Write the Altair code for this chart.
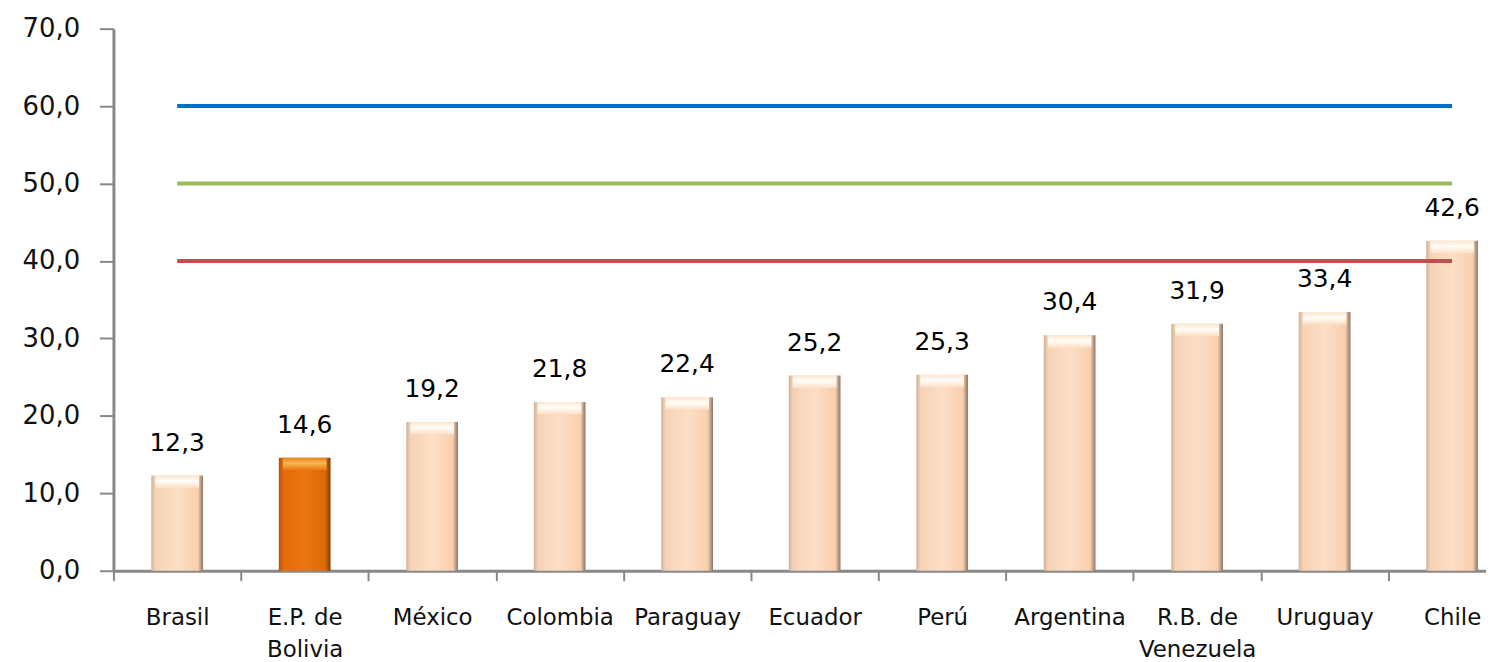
import altair as alt
import pandas as pd

countries = ["Brasil", "E.P. de Bolivia", "México", "Colombia", "Paraguay", "Ecuador",
             "Perú", "Argentina", "R.B. de Venezuela", "Uruguay", "Chile"]
values = [12.3, 14.6, 19.2, 21.8, 22.4, 25.2, 25.3, 30.4, 31.9, 33.4, 42.6]
highlight = "E.P. de Bolivia"

ref_levels = [60, 50, 40]
ref_names = ["60", "50", "40"]
ref_colors = ["#0070C0", "#9BBB59", "#C0504D"]
ref_span = ["Brasil", "Chile"]

bars_df = pd.DataFrame({"country": countries, "value": values})
bars_df["hl"] = bars_df["country"] == highlight

rows = []
for lvl, nm in zip(ref_levels, ref_names):
    for c in ref_span:
        rows.append({"country": c, "value": lvl, "ref": nm})
lines_df = pd.DataFrame(rows)

xscale = alt.Scale(domain=countries, range=[0, 1410], paddingInner=0, paddingOuter=0)
label_expr = ("datum.label == 'E.P. de Bolivia' ? ['E.P. de', 'Bolivia'] : "
              "datum.label == 'R.B. de Venezuela' ? ['R.B. de', 'Venezuela'] : datum.label")

x_enc = alt.X("country:N", scale=xscale, sort=countries,
              axis=alt.Axis(title=None, labelAngle=0, tickBand="extent", tickSize=10,
                            tickWidth=2, tickColor="#888888", domainColor="#888888",
                            domainWidth=3, labelFontSize=23, labelColor="#111111",
                            labelFont="DejaVu Sans", labelPadding=26,
                            labelLineHeight=32, labelBaseline="top",
                            labelExpr=label_expr))
y_enc = alt.Y("value:Q", scale=alt.Scale(domain=[0, 70], nice=False),
              axis=alt.Axis(title=None, values=[0, 10, 20, 30, 40, 50, 60, 70],
                            labelExpr="replace(format(datum.value, '.1f'), '.', ',')",
                            tickSize=14, tickWidth=2, tickColor="#888888",
                            domainColor="#888888", domainWidth=3, grid=False,
                            labelFontSize=26, labelColor="#111111",
                            labelFont="DejaVu Sans", labelPadding=20))

peach = alt.Gradient(gradient="linear", x1=0, x2=1, y1=0, y2=0, stops=[
    alt.GradientStop(color="#CDB29C", offset=0),
    alt.GradientStop(color="#F6D2B4", offset=0.08),
    alt.GradientStop(color="#FDDFC6", offset=0.5),
    alt.GradientStop(color="#F8CFAE", offset=0.9),
    alt.GradientStop(color="#8E7565", offset=1)])
orange = alt.Gradient(gradient="linear", x1=0, x2=1, y1=0, y2=0, stops=[
    alt.GradientStop(color="#B8520A", offset=0),
    alt.GradientStop(color="#E46C0A", offset=0.1),
    alt.GradientStop(color="#EC760F", offset=0.5),
    alt.GradientStop(color="#DD680A", offset=0.9),
    alt.GradientStop(color="#7E3A08", offset=1)])
cap_peach = alt.Gradient(gradient="linear", x1=0, x2=0, y1=0, y2=1, stops=[
    alt.GradientStop(color="#FBE6D2", offset=0),
    alt.GradientStop(color="#FFFDF8", offset=0.45),
    alt.GradientStop(color="#FDDFC6", offset=1)])
cap_orange = alt.Gradient(gradient="linear", x1=0, x2=0, y1=0, y2=1, stops=[
    alt.GradientStop(color="#E8801A", offset=0),
    alt.GradientStop(color="#F6B850", offset=0.45),
    alt.GradientStop(color="#EC760F", offset=1)])

base = alt.Chart(bars_df)
bars_normal = base.transform_filter("!datum.hl").mark_bar(width=52, color=peach).encode(x=x_enc, y=y_enc)
bars_hl = base.transform_filter("datum.hl").mark_bar(width=52, color=orange).encode(x=x_enc, y=y_enc)

cap_base = base.transform_calculate(low="datum.value - 1.6")
caps_normal = cap_base.transform_filter("!datum.hl").mark_bar(width=44, color=cap_peach).encode(
    x=x_enc, y=y_enc, y2="low:Q")
caps_hl = cap_base.transform_filter("datum.hl").mark_bar(width=44, color=cap_orange).encode(
    x=x_enc, y=y_enc, y2="low:Q")

labels = base.transform_calculate(
    lbl="replace(format(datum.value, '.1f'), '.', ',')"
).mark_text(baseline="middle", dy=-33, fontSize=25, font="DejaVu Sans", color="#000000").encode(
    x=x_enc, y=y_enc, text="lbl:N")

lines = alt.Chart(lines_df).mark_line(strokeWidth=4).encode(
    x=x_enc, y=y_enc,
    color=alt.Color("ref:N", scale=alt.Scale(domain=ref_names, range=ref_colors), legend=None),
    detail="ref:N")

chart = alt.layer(bars_normal, bars_hl, caps_normal, caps_hl, lines, labels).properties(
    width=1380, height=545,
    autosize=alt.AutoSizeParams(type="none"),
    padding={"left": 106, "top": 19, "right": 0, "bottom": 90},
).configure(background="white").configure_view(stroke=None)

chart.save("out.html", embed_options={"renderer": "svg", "actions": False})
